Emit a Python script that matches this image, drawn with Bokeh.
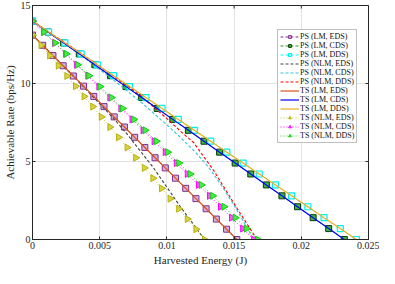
import numpy as np
from bokeh.plotting import figure
from bokeh.models import Range1d, FixedTicker
from bokeh.embed import file_html
from bokeh.resources import INLINE

# ---------------- data ----------------
x_ticks = [0, 0.005, 0.01, 0.015, 0.02, 0.025]
x_tick_labels = ["0", "0.005", "0.01", "0.015", "0.02", "0.025"]
y_ticks = [0, 5, 10, 15]
y_tick_labels = ["0", "5", "10", "15"]

# LM, EDS (PS and TS coincide)
e_lm_eds = [0, 0.00076, 0.00152, 0.00228, 0.00304, 0.0038, 0.00456, 0.00532, 0.00608,
            0.00684, 0.0076, 0.00836, 0.00912, 0.00988, 0.01064, 0.0114, 0.01216,
            0.01292, 0.01368, 0.01444, 0.0152]
r_eds = [13.1, 12.45, 11.79, 11.14, 10.48, 9.83, 9.17, 8.52, 7.86, 7.21, 6.55, 5.9,
         5.24, 4.59, 3.93, 3.28, 2.62, 1.97, 1.31, 0.66, 0]
# LM, CDS
e_lm_cds = [0, 0.00116, 0.00232, 0.00348, 0.00464, 0.0058, 0.00696, 0.00812, 0.00928,
            0.01044, 0.0116, 0.01276, 0.01392, 0.01508, 0.01624, 0.0174, 0.01856,
            0.01972, 0.02088, 0.02204, 0.0232]
r_cds = [14, 13.3, 12.6, 11.9, 11.2, 10.5, 9.8, 9.1, 8.4, 7.7, 7.0, 6.3, 5.6, 4.9,
         4.2, 3.5, 2.8, 2.1, 1.4, 0.7, 0]
# LM, DDS
e_lm_dds = [0, 0.0012, 0.00241, 0.00362, 0.00482, 0.00603, 0.00723, 0.00844, 0.00964,
            0.01085, 0.01205, 0.01326, 0.01446, 0.01567, 0.01687, 0.01808, 0.01928,
            0.02049, 0.02169, 0.0229, 0.0241]
r_dds = [14, 13.3, 12.6, 11.9, 11.2, 10.5, 9.8, 9.1, 8.4, 7.7, 7.0, 6.3, 5.6, 4.9,
         4.2, 3.5, 2.8, 2.1, 1.4, 0.7, 0]
# PS, NLM curves
e_ps_nlm_eds = [0, 0.001, 0.002, 0.003, 0.004, 0.005, 0.006, 0.007, 0.008, 0.009,
                0.010, 0.011, 0.012, 0.0128]
r_ps_nlm_eds = [13.1, 12.25, 11.35, 10.5, 9.6, 8.7, 7.8, 6.8, 5.7, 4.6, 3.35, 2.1,
                0.95, 0]
e_ps_nlm_cds = [0, 0.002, 0.004, 0.005, 0.006, 0.007, 0.008, 0.009, 0.010, 0.011,
                0.012, 0.013, 0.014, 0.015, 0.016, 0.01646]
r_ps_nlm_cds = [14, 12.8, 11.55, 10.9, 10.25, 9.55, 8.85, 8.1, 7.35, 6.55, 5.7, 4.75,
                3.55, 2.2, 0.7, 0]
e_ps_nlm_dds = [0, 0.002, 0.004, 0.006, 0.008, 0.009, 0.010, 0.011, 0.012, 0.013,
                0.0135, 0.014, 0.015, 0.016, 0.0167]
r_ps_nlm_dds = [14, 12.85, 11.7, 10.5, 9.25, 8.5, 7.75, 6.95, 6.2, 5.0, 4.4, 3.7,
                2.3, 0.95, 0]
# TS, NLM lines
e_ts_nlm_eds = [0, 0.00064, 0.00128, 0.00192, 0.00256, 0.0032, 0.00384, 0.00448,
                0.00512, 0.00576, 0.0064, 0.00704, 0.00768, 0.00832, 0.00896, 0.0096,
                0.01024, 0.01088, 0.01152, 0.01216, 0.0128]
e_ts_nlm_cds = [0, 0.00082, 0.00165, 0.00247, 0.00329, 0.00412, 0.00494, 0.00576,
                0.00658, 0.00741, 0.00823, 0.00905, 0.00988, 0.0107, 0.01152, 0.01235,
                0.01317, 0.01399, 0.01481, 0.01564, 0.01646]
e_ts_nlm_dds = [0, 0.00084, 0.00168, 0.00251, 0.00335, 0.00419, 0.00503, 0.00587,
                0.0067, 0.00754, 0.00838, 0.00922, 0.01006, 0.01089, 0.01173, 0.01257,
                0.01341, 0.01425, 0.01508, 0.01592, 0.01676]

FONT = "Liberation Serif"
AX = "#262626"
X_MIN, X_MAX = 0, 0.025
Y_MIN, Y_MAX = 0, 15

p = figure(width=379, height=268, output_backend="svg", toolbar_location=None,
           x_range=Range1d(X_MIN, X_MAX), y_range=Range1d(Y_MIN, Y_MAX),
           min_border_left=1, min_border_right=11, min_border_top=5,
           min_border_bottom=1)
p.outline_line_color = AX
p.outline_line_width = 1
p.background_fill_color = "white"

for ax in (p.xaxis[0], p.yaxis[0]):
    ax.axis_line_color = AX
    ax.major_tick_line_color = AX
    ax.major_tick_in = 3
    ax.major_tick_out = 0
    ax.minor_tick_line_color = None
    ax.major_label_text_font = FONT
    ax.major_label_text_font_size = "10px"
    ax.major_label_text_color = AX
    ax.axis_label_text_font = FONT
    ax.axis_label_text_font_size = "11px"
    ax.axis_label_text_font_style = "normal"
    ax.axis_label_text_color = AX
    ax.major_label_standoff = 2
    ax.axis_label_standoff = 2

p.xaxis.ticker = FixedTicker(ticks=x_ticks)
p.yaxis.ticker = FixedTicker(ticks=y_ticks)
p.xaxis.major_label_overrides = dict(zip(x_ticks, x_tick_labels))
p.yaxis.major_label_overrides = dict(zip(y_ticks, y_tick_labels))
p.xaxis.axis_label = "Harvested Energy (J)"
p.yaxis.axis_label = "Achievable Rate (bps/Hz)"

p.xgrid.grid_line_color = "#E3E3E3"
p.ygrid.grid_line_color = "#E3E3E3"
p.xgrid.ticker = FixedTicker(ticks=x_ticks)
p.ygrid.ticker = FixedTicker(ticks=y_ticks)

# mirrored inward tick marks on the top and right edges (box on)
p.scatter(x_ticks, [Y_MAX] * len(x_ticks), marker="dash", angle=np.pi / 2, size=6,
          line_color=AX, line_width=1)
p.scatter([X_MAX] * len(y_ticks), y_ticks, marker="dash", size=6,
          line_color=AX, line_width=1)

DASH = "3 2"
DOT = "1 2"
tri = -np.pi / 2

# PS (LM, EDS)
p.line(e_lm_eds, r_eds, color="#7E2F8E", line_dash=DASH, line_width=1, legend_label="PS (LM, EDS)")
p.scatter(e_lm_eds, r_eds, marker="square", size=6, line_color="#7E2F8E", fill_color="#D9B3E0",
          line_width=1, legend_label="PS (LM, EDS)")
# PS (LM, CDS)
p.line(e_lm_cds, r_cds, color="#22A022", line_dash=DASH, line_width=1, legend_label="PS (LM, CDS)")
p.scatter(e_lm_cds, r_cds, marker="square", size=6, line_color="#0A3A0A", fill_color="#3DB83D",
          line_width=1, legend_label="PS (LM, CDS)")
# PS (LM, DDS)
p.line(e_lm_dds, r_dds, color="#00FFFF", line_dash=DASH, line_width=1, legend_label="PS (LM, DDS)")
p.scatter(e_lm_dds, r_dds, marker="square", size=6, line_color="#00F0F0", fill_color="#E8FFFF",
          line_width=1.2, legend_label="PS (LM, DDS)")
# PS (NLM, ...)
p.line(e_ps_nlm_eds, r_ps_nlm_eds, color="#404040", line_dash=DASH, line_width=1.1,
       legend_label="PS (NLM, EDS)")
p.line(e_ps_nlm_cds, r_ps_nlm_cds, color="#2EC4D6", line_dash=DASH, line_width=1.1,
       legend_label="PS (NLM, CDS)")
p.line(e_ps_nlm_dds, r_ps_nlm_dds, color="#FF0000", line_dash=DASH, line_width=1.1,
       legend_label="PS (NLM, DDS)")
# TS (LM, ...)
p.line(e_lm_eds, r_eds, color="#D95319", line_width=1.2, legend_label="TS (LM, EDS)")
p.line(e_lm_cds, r_cds, color="#0000FF", line_width=1.2, legend_label="TS (LM, CDS)")
p.line(e_lm_dds, r_dds, color="#EDB120", line_width=1.2, legend_label="TS (LM, DDS)")
# TS (NLM, ...)
p.line(e_ts_nlm_eds, r_eds, color="#C8C31E", line_dash=DOT, line_width=1, legend_label="TS (NLM, EDS)")
p.scatter(e_ts_nlm_eds, r_eds, marker="triangle", angle=tri, size=7, line_color="#B5B010",
          fill_color="#D8D440", legend_label="TS (NLM, EDS)")
p.line(e_ts_nlm_cds, r_cds, color="#FF00FF", line_dash=DOT, line_width=1, legend_label="TS (NLM, CDS)")
p.scatter(e_ts_nlm_cds, r_cds, marker="triangle", angle=tri, size=7, line_color="#FF00FF",
          fill_color="#FF55FF", legend_label="TS (NLM, CDS)")
p.line(e_ts_nlm_dds, r_dds, color="#22DD22", line_dash=DOT, line_width=1, legend_label="TS (NLM, DDS)")
p.scatter(e_ts_nlm_dds, r_dds, marker="triangle", angle=tri, size=7, line_color="#11CC11",
          fill_color="#44EE44", legend_label="TS (NLM, DDS)")

leg = p.legend[0]
leg.location = (245, 96)
leg.label_text_font = FONT
leg.label_text_font_size = "8px"
leg.label_text_color = "#111111"
leg.label_height = 7
leg.glyph_height = 7
leg.glyph_width = 19
leg.label_standoff = 1
leg.spacing = 0
leg.padding = 2
leg.margin = 0
leg.border_line_color = "#808080"
leg.border_line_width = 1
leg.background_fill_color = "white"
leg.background_fill_alpha = 1

open("out.html", "w").write(file_html(p, INLINE))
